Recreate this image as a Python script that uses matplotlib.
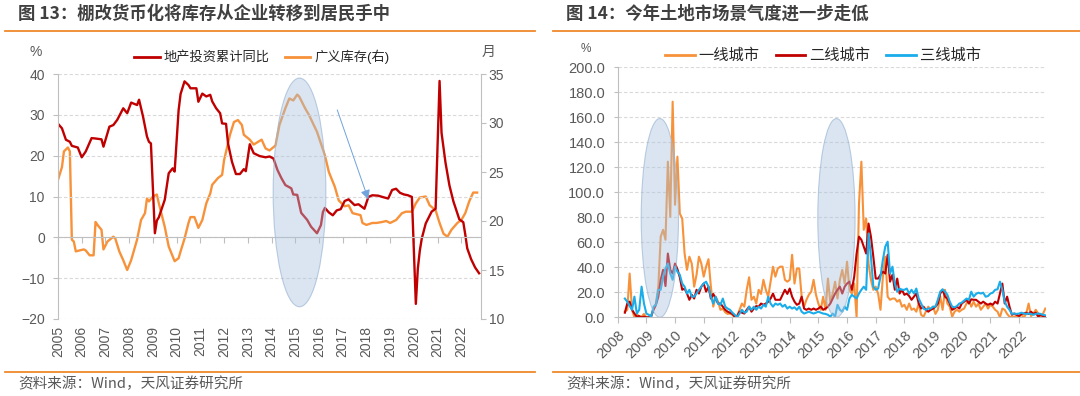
import matplotlib
matplotlib.use("Agg")
import matplotlib.pyplot as plt
from matplotlib.patches import Ellipse
from matplotlib.lines import Line2D
from matplotlib.ticker import FormatStrFormatter

plt.rcParams['font.family'] = ['Liberation Sans', 'Noto Sans CJK SC']
plt.rcParams['axes.unicode_minus'] = True

# ---------------- data: left chart ----------------
inv_dates = ["2005-01", "2005-03", "2005-05", "2005-07", "2005-08", "2005-11", "2006-01", "2006-03",
             "2006-06", "2006-08", "2006-11", "2006-12", "2007-03", "2007-05", "2007-07", "2007-10",
             "2007-12", "2008-02", "2008-05", "2008-06", "2008-08", "2008-10", "2008-11", "2008-12",
             "2009-02", "2009-03", "2009-04", "2009-07", "2009-09", "2009-11", "2009-12", "2010-02",
             "2010-03", "2010-05", "2010-07", "2010-08", "2010-11", "2010-12", "2011-02", "2011-04",
             "2011-06", "2011-07", "2011-09", "2011-11", "2011-12", "2012-02", "2012-03", "2012-05",
             "2012-07", "2012-09", "2012-11", "2012-12", "2013-02", "2013-04", "2013-07", "2013-10",
             "2013-12", "2014-02", "2014-04", "2014-06", "2014-08", "2014-11", "2014-12", "2015-02",
             "2015-04", "2015-07", "2015-09", "2015-12", "2016-02", "2016-03", "2016-04", "2016-06",
             "2016-08", "2016-10", "2016-12", "2017-02", "2017-04", "2017-07", "2017-09", "2017-12",
             "2018-02", "2018-04", "2018-07", "2018-09", "2018-12", "2019-02", "2019-04", "2019-06",
             "2019-08", "2019-10", "2019-12", "2020-02", "2020-03", "2020-04", "2020-05", "2020-07",
             "2020-10", "2020-12", "2021-02", "2021-03", "2021-05", "2021-07", "2021-09", "2021-12",
             "2022-02", "2022-03", "2022-04", "2022-06", "2022-08", "2022-10"]
inv_yoy = [27.8, 26.7, 23.9, 23.4, 22.4, 22.0, 19.6, 21.0,
           24.3, 24.2, 24.0, 22.2, 27.1, 27.5, 28.8, 31.6,
           30.4, 33.0, 32.4, 33.7, 29.6, 24.7, 23.4, 23.0,
           1.0, 4.1, 4.9, 9.2, 15.7, 16.9, 16.1, 31.1,
           35.1, 38.2, 37.3, 36.5, 36.5, 33.2, 35.2, 34.5,
           34.9, 33.3, 31.6, 30.4, 27.9, 27.8, 23.0, 18.5,
           15.5, 15.5, 16.7, 16.2, 22.8, 20.6, 19.9, 19.6,
           19.8, 19.3, 16.5, 14.5, 12.8, 12.0, 10.5, 10.4,
           6.0, 4.3, 2.6, 1.0, 3.0, 6.2, 7.2, 6.1,
           5.4, 6.6, 6.9, 8.9, 9.3, 7.9, 8.1, 7.0,
           9.9, 10.3, 10.2, 9.9, 9.5, 11.6, 11.9, 10.9,
           10.5, 10.3, 9.9, -16.3, -7.7, -3.3, -0.3, 3.4,
           6.3, 7.0, 38.3, 25.6, 18.3, 12.7, 8.8, 4.4,
           3.7, 0.7, -2.7, -5.4, -7.4, -8.8]

stock_dates = ["2005-01", "2005-03", "2005-04", "2005-06", "2005-07", "2005-08", "2005-09", "2005-10",
               "2005-12", "2006-02", "2006-03", "2006-05", "2006-07", "2006-08", "2006-09", "2006-11",
               "2006-12", "2007-02", "2007-05", "2007-06", "2007-08", "2007-10", "2007-12", "2008-02",
               "2008-05", "2008-07", "2008-09", "2008-10", "2008-11", "2009-01", "2009-03", "2009-04",
               "2009-07", "2009-09", "2009-12", "2010-02", "2010-03", "2010-05", "2010-07", "2010-08",
               "2010-10", "2010-12", "2011-02", "2011-04", "2011-06", "2011-07", "2011-10", "2011-12",
               "2012-01", "2012-04", "2012-06", "2012-08", "2012-10", "2012-11", "2013-02", "2013-04",
               "2013-08", "2013-10", "2013-12", "2014-03", "2014-05", "2014-08", "2014-10", "2014-12",
               "2015-02", "2015-03", "2015-06", "2015-08", "2015-12", "2016-02", "2016-04", "2016-06",
               "2016-09", "2016-11", "2017-02", "2017-04", "2017-06", "2017-10", "2017-11", "2018-01",
               "2018-04", "2018-06", "2018-09", "2018-11", "2019-01", "2019-04", "2019-07", "2019-09",
               "2019-12", "2020-02", "2020-04", "2020-07", "2020-09", "2020-12", "2021-02", "2021-04",
               "2021-06", "2021-08", "2021-11", "2022-01", "2022-03", "2022-05", "2022-07", "2022-09"]
stock_months = [24.2, 25.5, 27.1, 27.5, 27.1, 18.1, 17.9, 16.9,
                17.0, 17.1, 17.0, 16.5, 16.5, 19.9, 19.6, 19.1,
                17.1, 17.9, 18.4, 18.2, 16.9, 16.0, 15.0, 16.0,
                18.1, 20.1, 20.8, 22.3, 22.0, 22.5, 22.7, 21.8,
                19.4, 17.4, 15.9, 16.2, 16.9, 18.2, 19.8, 20.4,
                20.4, 19.3, 20.1, 21.8, 22.8, 23.7, 24.4, 24.7,
                26.2, 28.8, 30.1, 30.3, 29.8, 28.8, 28.3, 27.8,
                28.3, 27.4, 27.2, 27.7, 29.8, 31.5, 32.5, 32.3,
                32.9, 32.7, 31.5, 30.8, 29.1, 27.9, 26.7, 25.0,
                23.5, 22.1, 21.5, 21.6, 20.8, 20.6, 19.8, 19.6,
                19.8, 19.8, 19.9, 20.0, 19.8, 20.1, 20.8, 20.95,
                20.95, 21.8, 22.4, 22.5, 21.6, 21.1, 19.8, 18.7,
                18.4, 19.1, 19.8, 20.1, 20.8, 22.0, 22.9, 22.9]

left_years = list(range(2005, 2023))

# ---------------- data: right chart (monthly, from 2008-04) ----------------
land_start = "2008-04"
tier1 = [4.5, 6, 35, 6, 0, 3, 0, 0.5, 2.7,
         0, 0, 0.5, 7, 11, 24.5, 64.5, 70, 62, 124.5, 80.5, 172.5,
         90, 128.5, 83, 79, 51, 38, 48.5, 43, 24.5, 34, 48.5, 43,
         32.5, 40.5, 46.5, 24.5, 8.5, 16.5, 12.5, 6, 7, 4, 2.7, 3,
         2, 0, 1, 6, 11, 8.5, 22, 32, 14, 16.5, 11, 22,
         18.7, 30, 22, 16.5, 28.5, 40.5, 32.5, 39, 40.5, 40.5, 30, 28.5,
         30, 50, 27, 39, 39, 16.5, 8.5, 14, 18, 20.5, 30, 18,
         11, 6, 16.5, 6, 31, 12, 19, 28.5, 15, 30, 38, 27,
         44.5, 22, 19, 27, 0, 91, 124.5, 70, 79, 43, 30, 22,
         24.5, 19, 6, 32.5, 48.5, 16.5, 14, 15, 15, 12.5, 14, 8.5,
         10, 6, 11, 6, 7, 4.5, 11, 2, 0.5, 4.5, 8.5, 6,
         8.5, 2.7, 6, 16.5, 6, 22, 11, 8.5, 0.5, 4.5, 6, 4.5,
         6, 7, 11, 14, 8.5, 12.5, 8.5, 11, 6, 8.5, 11, 7,
         10, 8.5, 6, 4.5, 0, 7, 6, 2.7, 0.5, 0, 0.5, 1,
         0.5, 2, 0, 2.7, 11, 1, 3, 6, 3, 0, 2.7, 7]
tier2 = [3.7, 11, 12.5, 6, 3, 0.5, 1, 0, 0.5,
         0, 0, 1, 6, 10, 16.5, 30, 38, 25, 51, 38, 35,
         43, 38.5, 32, 22, 23, 19, 14, 18, 15, 22, 19, 24.5,
         27, 20.5, 24.5, 15, 18.7, 15, 11, 11, 8.5, 6, 4.5, 3.7,
         2.7, 0.5, 1, 4.5, 3.7, 3, 6, 8.5, 4.5, 7, 9, 8.5,
         11, 10, 11, 12.5, 15, 19, 14, 14, 14, 18, 22, 18.7,
         23, 16.5, 12.5, 10, 11, 16.5, 7, 6, 7, 6, 7, 6,
         7, 8.5, 6, 7, 8.5, 11, 15, 19, 22, 24.5, 19, 24.5,
         27, 28.5, 22, 32.5, 51, 64.5, 62, 56.5, 51, 75, 64.5, 48.5,
         31, 31, 34, 36.5, 35, 50, 28.5, 34, 22, 31, 19, 22,
         18, 19, 17, 14, 16.5, 19, 11, 7, 8.5, 6, 4.5, 6,
         7, 8.5, 11, 19, 22, 16.5, 15, 11, 6, 7, 8.5, 7,
         11, 12.5, 14, 11, 14.4, 14, 14, 12.5, 11, 12.5, 11, 10,
         11, 10, 12.5, 11, 19, 27, 11, 16.5, 8.5, 2, 3, 2,
         1, 2.7, 3, 3.7, 2.7, 4.5, 2.7, 3.7, 0.5, 2, 1, 0.5]
tier3 = [15, 12.5, 9, 6, 16.5, 3, 6, 24.5, 11,
         3, 2, 0.5, 8.5, 10, 22, 22, 32.5, 39, 43, 35, 30,
         40.5, 36.5, 34, 27, 24.5, 19, 22, 16.5, 16.5, 19, 22, 24.5,
         27, 28.5, 24.5, 16.5, 11, 16.5, 11, 10, 15, 8.5, 7, 6,
         3.7, 2, 0, 3, 6, 3.7, 4.5, 8.5, 6, 8.5, 6, 8.5,
         7, 10, 8.5, 16.5, 11, 8.5, 11, 10, 11, 8.5, 10, 7,
         8.5, 7, 8, 6, 8.5, 4.5, 3, 3.7, 4.5, 3.7, 3, 3.7,
         4.5, 3.7, 3, 2.7, 2, 0.5, 3, 0.5, 10, 6, 4.5, 8.5,
         6, 15, 18, 16.5, 15, 19, 22, 24.5, 22, 67, 48.5, 24.5,
         22, 23, 32.5, 46, 56.5, 60.5, 35, 40.5, 27, 20.5, 23, 22,
         22, 23, 19, 22, 19, 23, 15, 11, 7, 6, 7, 7,
         8.5, 8.5, 14, 20.5, 22.4, 20.5, 18, 12.5, 8.5, 8, 9, 11,
         11.7, 13.3, 15, 14, 20.5, 16.5, 18.7, 19.7, 19, 19.7, 16.5, 17,
         19, 19.7, 22, 22.4, 28.5, 22, 12.5, 8.5, 6, 2.7, 3, 2.7,
         3, 3.7, 3, 2.7, 3, 2.7, 2, 2.7, 3, 2.7, 2, 1.6]
right_years = list(range(2008, 2023))


def ym(s):
    y, m = s.split("-")
    return int(y) + (int(m) - 1) / 12.0


inv_x = [ym(d) for d in inv_dates]
stock_x = [ym(d) for d in stock_dates]
x0 = ym(land_start)
land_x = [x0 + i / 12.0 for i in range(len(tier1))]

# ---------------- style ----------------
RED = '#C00000'
ORANGE = '#F7923A'
BLUE = '#1AADEA'
GRID = '#D9D9D9'
AXC = '#BFBFBF'
TXT = '#595959'
RULE = '#F0892B'
W, H = 1080, 396

fig = plt.figure(figsize=(W / 100, H / 100), dpi=100)
fig.patch.set_facecolor('white')


def fx(px):
    return px / W


def fy(py):
    return 1 - py / H


# titles, rules, sources
for x, t in [(18, '图 13：棚改货币化将库存从企业转移到居民手中'),
             (566, '图 14：今年土地市场景气度进一步走低')]:
    fig.text(fx(x), fy(14), t, fontsize=12.5, fontweight='bold', color='#404040',
             va='center', ha='left', family=['Noto Sans CJK SC', 'Liberation Sans'])
for xa, xb in [(5, 535), (553, 1080)]:
    fig.add_artist(Line2D([fx(xa), fx(xb)], [fy(31), fy(31)], color=RULE, lw=1.3))
    fig.add_artist(Line2D([fx(xa), fx(xb)], [fy(372), fy(372)], color=RULE, lw=1.3))
for x in (18, 566):
    fig.text(fx(x), fy(384), '资料来源：Wind，天风证券研究所', fontsize=10.5, color=TXT,
             va='center', ha='left', family=['Noto Sans CJK SC', 'Liberation Sans'])

# ---------------- left chart ----------------
ax = fig.add_axes([fx(58), fy(319), fx(481) - fx(58), fy(74) - fy(319)])
ax2 = ax.twinx()
ax.set_zorder(ax2.get_zorder() + 1)
ax.patch.set_visible(False)

ax2.plot(stock_x, stock_months, color=ORANGE, lw=1.7, solid_joinstyle='round')
ax.plot(inv_x, inv_yoy, color=RED, lw=1.7, solid_joinstyle='round')

ax.set_xlim(2005, 2022.83)
ax.set_ylim(-20, 40)
ax.set_yticks(range(-20, 41, 10))
ax2.set_ylim(10, 35)
ax2.set_yticks(range(10, 36, 5))
ax.grid(axis='y', color=GRID, ls=(0, (3, 2)), lw=0.8)
ax.set_axisbelow(True)

ax.spines['bottom'].set_position(('data', 0))
for s in ('top', 'right'):
    ax.spines[s].set_visible(False)
for s in ('top', 'left', 'bottom'):
    ax2.spines[s].set_visible(False)
ax.spines['left'].set_color(AXC)
ax.spines['bottom'].set_color(AXC)
ax2.spines['right'].set_color(AXC)

ax.set_xticks(left_years)
ax.tick_params(axis='x', direction='out', length=4, color=AXC, labelbottom=False)
ax.tick_params(axis='y', direction='out', length=3.5, color=AXC, labelsize=10,
               labelcolor=TXT, pad=6)
ax2.tick_params(axis='y', direction='out', length=3.5, color=AXC, labelsize=10,
                labelcolor=TXT, pad=2)
for yr in left_years:
    ax.annotate(str(yr), xy=(yr, 0), xycoords=('data', 'axes fraction'), xytext=(0, -5),
                textcoords='offset points', rotation=90, ha='center', va='top',
                fontsize=10, color=TXT)

ax.add_patch(Ellipse((2015.18, 11.0), width=2.22, height=56,
                     facecolor=(0.66, 0.76, 0.87, 0.42), edgecolor=(0.62, 0.72, 0.84, 0.7),
                     lw=0.8, zorder=5))
ax.annotate('', xy=(2018.08, 9.3), xytext=(2016.77, 31.2),
            arrowprops=dict(arrowstyle='-|>,head_length=0.55,head_width=0.28',
                            color='#6FA3DC', lw=0.7, shrinkA=0, shrinkB=0), zorder=6)

lh = [Line2D([], [], color=RED, lw=2), Line2D([], [], color=ORANGE, lw=2)]
ax.legend(lh, ['地产投资累计同比', '广义库存(右)'], loc='center',
          bbox_to_anchor=(fx(262), fy(57)), bbox_transform=fig.transFigure, ncol=2,
          frameon=False, fontsize=9.5, handlelength=1.9, handletextpad=0.3,
          columnspacing=1.2, labelcolor='#262626')
fig.text(fx(36), fy(52), '%', fontsize=10, color=TXT, ha='center', va='center')
fig.text(fx(489), fy(52), '月', fontsize=10, color=TXT, ha='center', va='center',
         family=['Noto Sans CJK SC'])

# ---------------- right chart ----------------
ax3 = fig.add_axes([fx(617.7), fy(317.3), fx(1046) - fx(617.7), fy(67.3) - fy(317.3)])
ax3.plot(land_x, tier1, color=ORANGE, lw=1.5, solid_joinstyle='round')
ax3.plot(land_x, tier2, color=RED, lw=1.5, solid_joinstyle='round')
ax3.plot(land_x, tier3, color=BLUE, lw=1.5, solid_joinstyle='round')
ax3.set_xlim(2008, 2022.94)
ax3.set_ylim(0, 200)
ax3.set_yticks(range(0, 201, 20))
ax3.yaxis.set_major_formatter(FormatStrFormatter('%.1f'))
ax3.grid(axis='y', color=GRID, ls=(0, (3, 2)), lw=0.8)
ax3.set_axisbelow(True)
for s in ('top', 'right'):
    ax3.spines[s].set_visible(False)
ax3.spines['left'].set_color(AXC)
ax3.spines['bottom'].set_color(AXC)
ax3.set_xticks(right_years)
ax3.set_xticklabels([str(y) for y in right_years], rotation=45, ha='right',
                    rotation_mode='anchor')
ax3.tick_params(axis='x', direction='out', length=4, color=AXC, labelsize=10.5,
                labelcolor=TXT, pad=4)
ax3.tick_params(axis='y', direction='out', length=3, color=AXC, labelsize=10.5,
                labelcolor=TXT, pad=6)
for cx in (2009.47, 2015.63):
    ax3.add_patch(Ellipse((cx, 79.5), width=1.3, height=159,
                          facecolor=(0.66, 0.76, 0.87, 0.42),
                          edgecolor=(0.62, 0.72, 0.84, 0.7), lw=0.8, zorder=5))

rh = [Line2D([], [], color=c, lw=2) for c in (ORANGE, RED, BLUE)]
ax3.legend(rh, ['一线城市', '二线城市', '三线城市'], loc='center',
           bbox_to_anchor=(fx(823), fy(56)), bbox_transform=fig.transFigure, ncol=3,
           frameon=False, fontsize=11, handlelength=1.95, handletextpad=0.25,
           columnspacing=1.05, labelcolor='#262626')
fig.text(fx(586), fy(49), '%', fontsize=8.5, color=TXT, ha='center', va='center')

fig.savefig('out.png', dpi=100, facecolor='white')
